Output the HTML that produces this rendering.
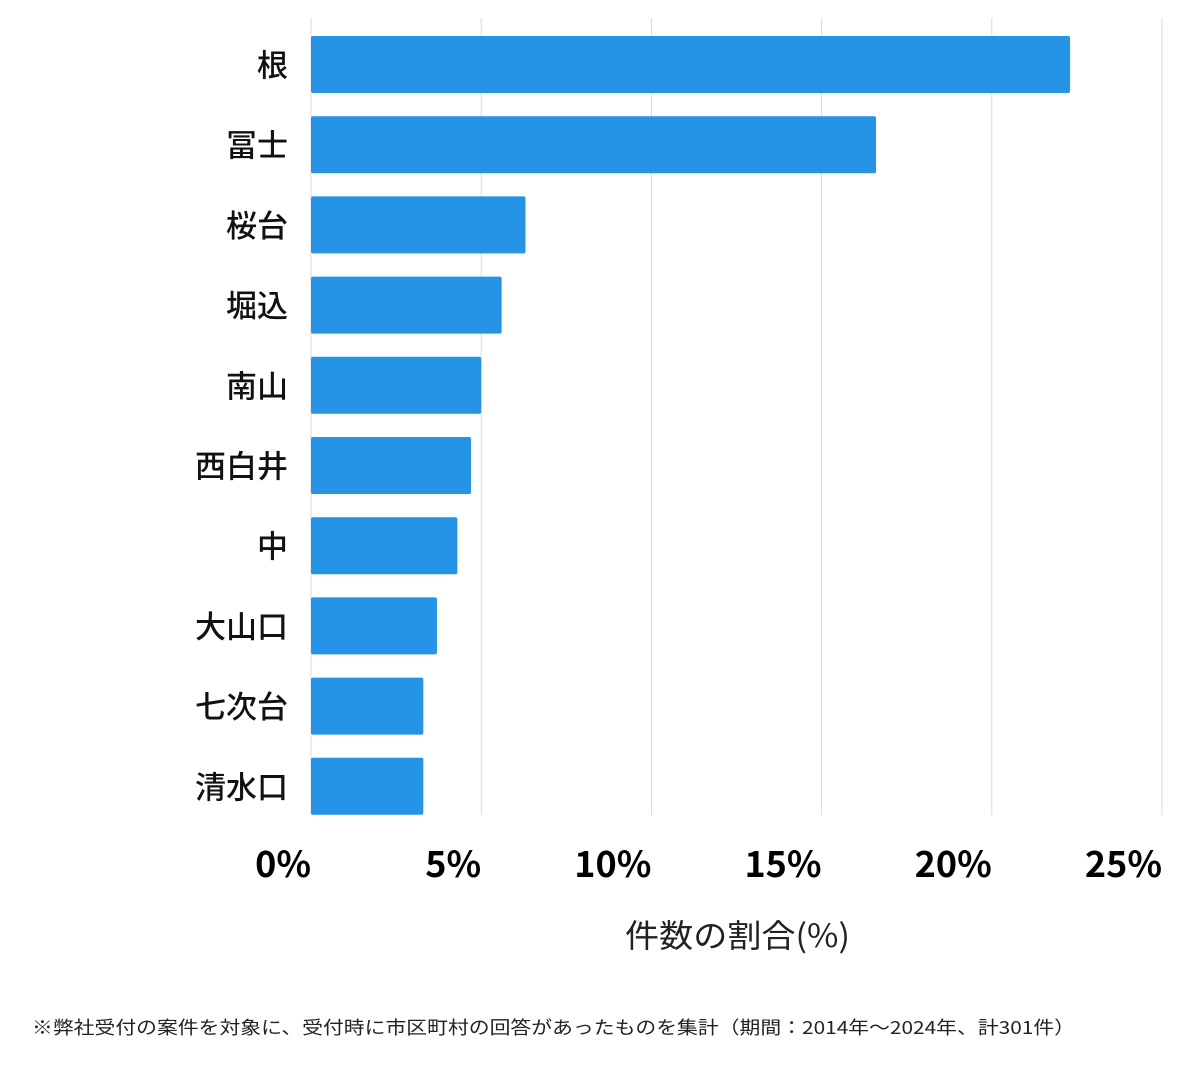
<!DOCTYPE html>
<html><head><meta charset="utf-8"><style>
body{margin:0;background:#fff;width:1200px;height:1069px;overflow:hidden;font-family:"Noto Sans CJK JP",sans-serif}
</style></head><body>
<svg id="chart" width="1200" height="1069" xmlns="http://www.w3.org/2000/svg" font-family="Noto Sans CJK JP, sans-serif"></svg>
<script>
const categories=["根","冨士","桜台","堀込","南山","西白井","中","大山口","七次台","清水口"];
const values=[22.3,16.6,6.3,5.6,5.0,4.7,4.3,3.7,3.3,3.3];
const ticks=[0,5,10,15,20,25];
const tickLabels=["0%","5%","10%","15%","20%","25%"];
const svg=document.getElementById('chart');
const NS='http://www.w3.org/2000/svg';
const x0=311,x1=1162,top0=18,plotBottom=815,rowH=80.2,firstTop=36,barH=57;
const xs=v=>x0+(v/25)*(x1-x0);
function mk(t,a,txt){const e=document.createElementNS(NS,t);for(const k in a)e.setAttribute(k,a[k]);if(txt!=null)e.textContent=txt;svg.appendChild(e);return e;}
ticks.forEach((t,i)=>{
 const g=mk('line',{x1:xs(t),x2:xs(t),y1:top0,y2:plotBottom,stroke:'#d9d9d9','stroke-width':1});
 
 
 const l=mk('text',{x:xs(t),y:877,'text-anchor':'end','font-size':36,'font-weight':'bold',fill:'#000'},tickLabels[i]);
 
 
});
categories.forEach((c,i)=>{
 const y=firstTop+i*rowH;
 const b=mk('rect',{x:x0,y:y,width:xs(values[i])-x0,height:barH,rx:2,fill:'#2593e6'});
 
 
 const l=mk('text',{x:288,y:y+barH/2+12,'text-anchor':'end','font-size':31,'font-weight':500,fill:'#111'},c);
 
 
});
const t=mk('text',{x:625,y:947,'font-size':32,fill:'#222',textLength:225,lengthAdjust:'spacingAndGlyphs'},'件数の割合(%)');


const f=mk('text',{x:32,y:1034,'font-size':18,fill:'#222',textLength:1043,lengthAdjust:'spacingAndGlyphs'},'※弊社受付の案件を対象に、受付時に市区町村の回答があったものを集計（期間：2014年～2024年、計301件）');


</script>
</body></html>
